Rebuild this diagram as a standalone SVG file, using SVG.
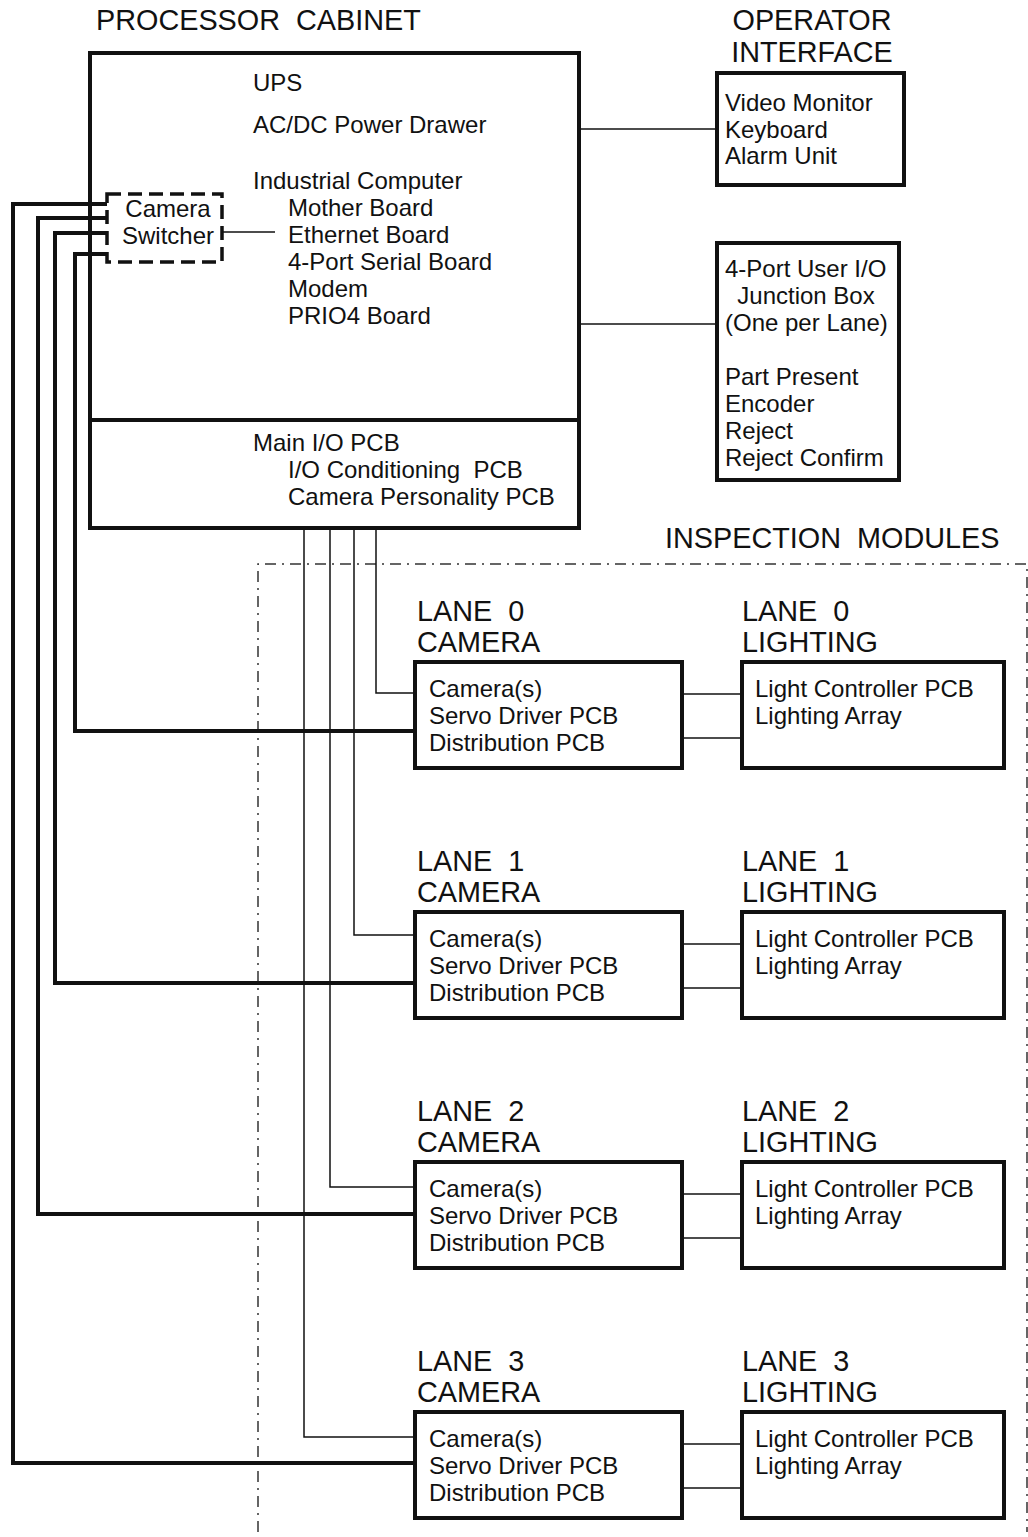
<svg xmlns="http://www.w3.org/2000/svg" width="1028" height="1537" viewBox="0 0 1028 1537">
<style>
text{font-family:"Liberation Sans",Arial,sans-serif;fill:#111;white-space:pre}
.b{font-size:24px}
.h{font-size:28.8px}
.box{fill:none;stroke:#111;stroke-width:4}
.thin{fill:none;stroke:#111;stroke-width:1.5}
.thick{fill:none;stroke:#111;stroke-width:4}
.dash{fill:none;stroke:#111;stroke-width:3.5;stroke-dasharray:14 7}
.dd{fill:none;stroke:#333;stroke-width:1.5;stroke-dasharray:11 6 2 6}
</style>
<rect width="1028" height="1537" fill="#fff"/>

<g id="inspection-modules">
<path class="dd" d="M258,1532 V564 H1027 V1532"/>
<text class="h" x="665" y="548">INSPECTION  MODULES</text>
</g>

<g id="connectors">
<!-- cabinet to operator / junction -->
<line class="thin" x1="579" y1="129" x2="716" y2="129"/>
<line class="thin" x1="579" y1="324" x2="716" y2="324"/>
<!-- switcher to ethernet -->
<line class="thin" x1="222" y1="232" x2="275" y2="232"/>
<!-- thin lines from Main I/O to cameras -->
<path class="thin" d="M376,528 V693 H415"/>
<path class="thin" d="M354,528 V935 H415"/>
<path class="thin" d="M330,528 V1187 H415"/>
<path class="thin" d="M304,528 V1437 H415"/>
<!-- thick lines from switcher to cameras -->
<path class="thick" d="M107,254 H75 V731 H415"/>
<path class="thick" d="M107,233 H55 V983 H415"/>
<path class="thick" d="M107,218 H38 V1214 H415"/>
<path class="thick" d="M107,204 H13 V1463 H415"/>
<!-- camera to lighting -->
<line class="thin" x1="682" y1="694" x2="742" y2="694"/>
<line class="thin" x1="682" y1="738" x2="742" y2="738"/>
<line class="thin" x1="682" y1="944" x2="742" y2="944"/>
<line class="thin" x1="682" y1="988" x2="742" y2="988"/>
<line class="thin" x1="682" y1="1194" x2="742" y2="1194"/>
<line class="thin" x1="682" y1="1238" x2="742" y2="1238"/>
<line class="thin" x1="682" y1="1444" x2="742" y2="1444"/>
<line class="thin" x1="682" y1="1488" x2="742" y2="1488"/>
</g>

<g id="processor-cabinet">
<text class="h" x="96" y="30">PROCESSOR  CABINET</text>
<rect class="box" x="90" y="53" width="489" height="475"/>
<line class="box" x1="90" y1="420" x2="579" y2="420"/>
<text class="b" x="253" y="91">UPS</text>
<text class="b" x="253" y="133">AC/DC Power Drawer</text>
<text class="b" x="253" y="189">Industrial Computer</text>
<text class="b" x="288" y="216">Mother Board</text>
<text class="b" x="288" y="243">Ethernet Board</text>
<text class="b" x="288" y="270">4-Port Serial Board</text>
<text class="b" x="288" y="297">Modem</text>
<text class="b" x="288" y="324">PRIO4 Board</text>
<text class="b" x="253" y="451">Main I/O PCB</text>
<text class="b" x="288" y="478">I/O Conditioning  PCB</text>
<text class="b" x="288" y="505">Camera Personality PCB</text>
</g>

<g id="camera-switcher">
<rect class="dash" x="107" y="194" width="115" height="68"/>
<text class="b" x="168" y="217" text-anchor="middle">Camera</text>
<text class="b" x="168" y="244" text-anchor="middle">Switcher</text>
</g>

<g id="operator-interface">
<text class="h" x="812" y="30" text-anchor="middle">OPERATOR</text>
<text class="h" x="812" y="62" text-anchor="middle">INTERFACE</text>
<rect class="box" x="717" y="73" width="187" height="112"/>
<text class="b" x="725" y="111">Video Monitor</text>
<text class="b" x="725" y="138">Keyboard</text>
<text class="b" x="725" y="164">Alarm Unit</text>
</g>

<g id="junction-box">
<rect class="box" x="717" y="243" width="182" height="237"/>
<text class="b" x="725" y="277">4-Port User I/O</text>
<text class="b" x="806" y="304" text-anchor="middle">Junction Box</text>
<text class="b" x="725" y="331">(One per Lane)</text>
<text class="b" x="725" y="385">Part Present</text>
<text class="b" x="725" y="412">Encoder</text>
<text class="b" x="725" y="439">Reject</text>
<text class="b" x="725" y="466">Reject Confirm</text>
</g>

<g id="lane0-camera">
<text class="h" x="417" y="621">LANE  0</text>
<text class="h" x="417" y="652">CAMERA</text>
<rect class="box" x="415" y="662" width="267" height="106"/>
<text class="b" x="429" y="697">Camera(s)</text>
<text class="b" x="429" y="724">Servo Driver PCB</text>
<text class="b" x="429" y="751">Distribution PCB</text>
</g>
<g id="lane0-lighting">
<text class="h" x="742" y="621">LANE  0</text>
<text class="h" x="742" y="652">LIGHTING</text>
<rect class="box" x="742" y="662" width="262" height="106"/>
<text class="b" x="755" y="697">Light Controller PCB</text>
<text class="b" x="755" y="724">Lighting Array</text>
</g>

<g id="lane1-camera">
<text class="h" x="417" y="871">LANE  1</text>
<text class="h" x="417" y="902">CAMERA</text>
<rect class="box" x="415" y="912" width="267" height="106"/>
<text class="b" x="429" y="947">Camera(s)</text>
<text class="b" x="429" y="974">Servo Driver PCB</text>
<text class="b" x="429" y="1001">Distribution PCB</text>
</g>
<g id="lane1-lighting">
<text class="h" x="742" y="871">LANE  1</text>
<text class="h" x="742" y="902">LIGHTING</text>
<rect class="box" x="742" y="912" width="262" height="106"/>
<text class="b" x="755" y="947">Light Controller PCB</text>
<text class="b" x="755" y="974">Lighting Array</text>
</g>

<g id="lane2-camera">
<text class="h" x="417" y="1121">LANE  2</text>
<text class="h" x="417" y="1152">CAMERA</text>
<rect class="box" x="415" y="1162" width="267" height="106"/>
<text class="b" x="429" y="1197">Camera(s)</text>
<text class="b" x="429" y="1224">Servo Driver PCB</text>
<text class="b" x="429" y="1251">Distribution PCB</text>
</g>
<g id="lane2-lighting">
<text class="h" x="742" y="1121">LANE  2</text>
<text class="h" x="742" y="1152">LIGHTING</text>
<rect class="box" x="742" y="1162" width="262" height="106"/>
<text class="b" x="755" y="1197">Light Controller PCB</text>
<text class="b" x="755" y="1224">Lighting Array</text>
</g>

<g id="lane3-camera">
<text class="h" x="417" y="1371">LANE  3</text>
<text class="h" x="417" y="1402">CAMERA</text>
<rect class="box" x="415" y="1412" width="267" height="106"/>
<text class="b" x="429" y="1447">Camera(s)</text>
<text class="b" x="429" y="1474">Servo Driver PCB</text>
<text class="b" x="429" y="1501">Distribution PCB</text>
</g>
<g id="lane3-lighting">
<text class="h" x="742" y="1371">LANE  3</text>
<text class="h" x="742" y="1402">LIGHTING</text>
<rect class="box" x="742" y="1412" width="262" height="106"/>
<text class="b" x="755" y="1447">Light Controller PCB</text>
<text class="b" x="755" y="1474">Lighting Array</text>
</g>
</svg>
